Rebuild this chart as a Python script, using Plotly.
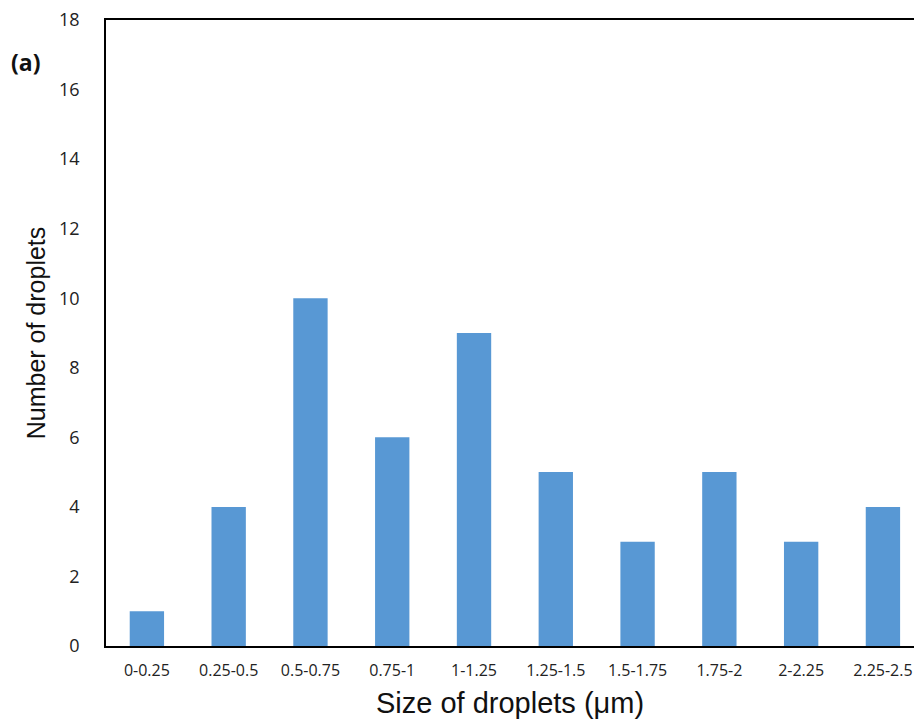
import plotly.graph_objects as go

categories = ["0-0.25", "0.25-0.5", "0.5-0.75", "0.75-1", "1-1.25",
              "1.25-1.5", "1.5-1.75", "1.75-2", "2-2.25", "2.25-2.5"]
counts = [1, 4, 10, 6, 9, 5, 3, 5, 3, 4]
y_ticks = list(range(0, 19, 2))

fig = go.Figure()
fig.add_trace(go.Bar(
    x=list(range(len(categories))), y=counts, width=0.42,
    marker=dict(color="#5898D4", line=dict(width=0)),
))

fig.update_layout(
    width=914, height=725,
    margin=dict(l=106, r=0, t=20, b=79),
    plot_bgcolor="white", paper_bgcolor="white",
    showlegend=False,
    font=dict(family="Open Sans, Liberation Sans, sans-serif", color="#222"),
)
fig.update_xaxes(
    tickmode="array", tickvals=list(range(len(categories))), ticktext=categories,
    range=[-0.5, 9.38], showline=True, linecolor="black", linewidth=1.5,
    mirror=True, showgrid=False, ticks="", ticklabelstandoff=9,
    tickfont=dict(size=16, family="Open Sans, sans-serif", color="#222"),
    title=dict(text="Size of droplets (μm)", standoff=13,
               font=dict(size=29, family="Liberation Sans, Arial, sans-serif", color="#111")),
)
fig.update_yaxes(
    range=[0, 18], tickvals=y_ticks, showline=True, linecolor="black", linewidth=1.5,
    showgrid=False, ticks="", ticklabelstandoff=21, zeroline=False,
    tickfont=dict(size=18, family="Open Sans, sans-serif", color="#222"),
    title=dict(text="Number of droplets", standoff=6,
               font=dict(size=25, family="Liberation Sans, Arial, sans-serif", color="#111")),
)
fig.add_annotation(
    text="<b>(a)</b>", xref="paper", yref="paper", x=-0.12, y=0.933,
    xanchor="left", yanchor="middle", showarrow=False,
    font=dict(size=23, family="Open Sans, sans-serif", color="#111"),
)
fig.write_html("out.html")
